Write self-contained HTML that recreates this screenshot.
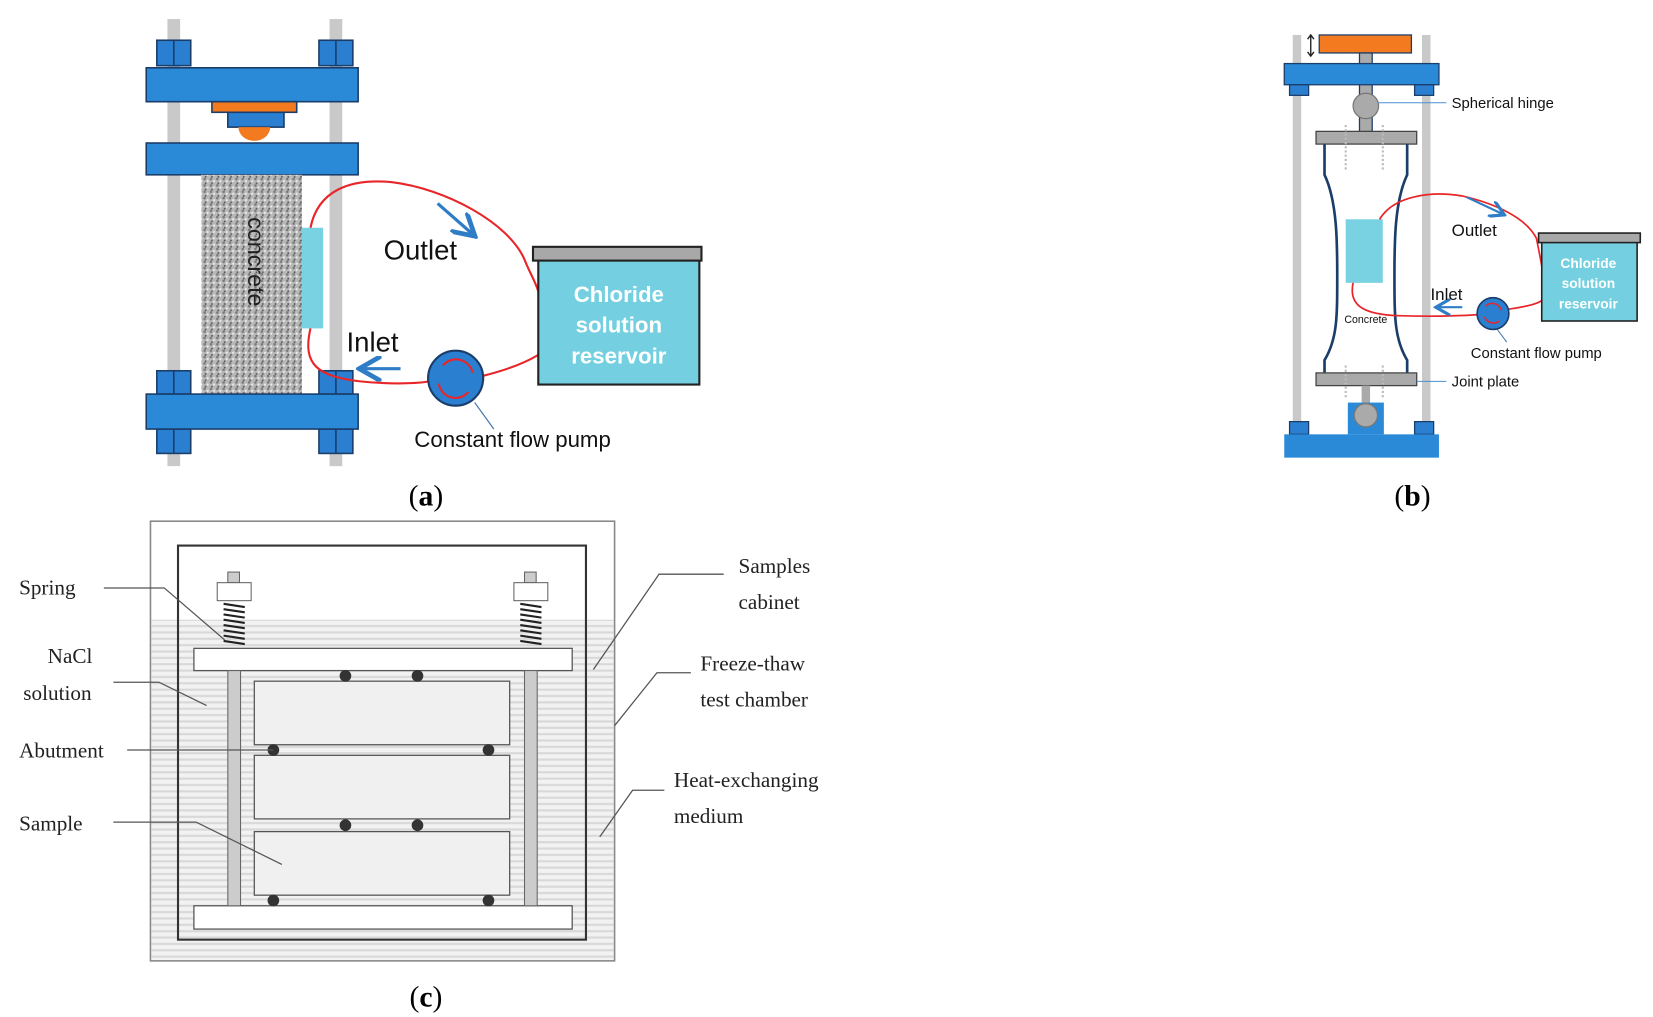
<!DOCTYPE html>
<html><head><meta charset="utf-8"><style>html,body{margin:0;padding:0;background:#fff;}svg{display:block}</style></head>
<body>
<svg width="1653" height="1017" viewBox="0 0 1560 960" preserveAspectRatio="none" xmlns="http://www.w3.org/2000/svg" font-family="Liberation Sans, sans-serif">
<defs>
<pattern id="spk" width="6" height="6" patternUnits="userSpaceOnUse"><rect width="6" height="6" fill="#b8b8b8"/><circle cx="1" cy="1" r="1.2" fill="#777"/><circle cx="4" cy="3" r="1" fill="#eee"/><circle cx="2" cy="5" r="0.9" fill="#555"/></pattern>
<pattern id="dot" width="4" height="6" patternUnits="userSpaceOnUse"><rect width="4" height="6" fill="#f2f2f2"/><rect x="0" y="2" width="4" height="2" fill="#d8d8d8"/></pattern>
<marker id="ah" markerWidth="8" markerHeight="8" refX="6" refY="4" orient="auto"><path d="M0,0 L7,4 L0,8" fill="none" stroke="#2e7dc6" stroke-width="1.5"/></marker>
</defs>
<!-- (a) -->
<g stroke="#1b3d6a" stroke-width="1.5">
<rect x="158" y="18" width="12" height="422" fill="#c9c9c9" stroke="none"/>
<rect x="311" y="18" width="12" height="422" fill="#c9c9c9" stroke="none"/>
<g fill="#2a7fd0">
<rect x="148" y="38" width="32" height="24"/><rect x="301" y="38" width="32" height="24"/>
<rect x="148" y="350" width="32" height="22"/><rect x="301" y="350" width="32" height="22"/>
<rect x="148" y="405" width="32" height="23"/><rect x="301" y="405" width="32" height="23"/>
</g>
<path d="M164 38V62M164 350V372M164 405V428M317 38V62M317 350V372M317 405V428" />
<rect x="138" y="64" width="200" height="32" fill="#2a8ad8"/>
<rect x="200" y="96" width="80" height="10" fill="#f47a1f"/>
<rect x="215" y="106" width="53" height="14" fill="#2a7fd0"/>
<path d="M225 120 A15 13 0 0 0 255 120Z" fill="#f47a1f" stroke="none"/>
<rect x="138" y="135" width="200" height="30" fill="#2a8ad8"/>
<rect x="190" y="165" width="95" height="207" fill="url(#spk)" stroke="none"/>
<rect x="285" y="215" width="20" height="95" fill="#78d2e2" stroke="none"/>
<rect x="138" y="372" width="200" height="33" fill="#2a8ad8"/>
</g>
<text x="0" y="0" transform="translate(234,205) rotate(90)" font-size="22" fill="#222">concrete</text>
<path d="M293 215 C300 180 330 168 370 172 C420 178 480 210 495 245 C500 258 505 265 508 275" fill="none" stroke="#e8262a" stroke-width="2"/>
<path d="M293 310 C285 345 300 355 340 360 C370 363 395 362 405 360" fill="none" stroke="#e8262a" stroke-width="2"/>
<path d="M455 355 C475 350 495 343 508 335" fill="none" stroke="#e8262a" stroke-width="2"/>
<path d="M413 192 L446 221" stroke="#2e7dc6" stroke-width="3" marker-end="url(#ah)"/>
<path d="M378 348 L342 348" stroke="#2e7dc6" stroke-width="3" marker-end="url(#ah)"/>
<text x="362" y="245" font-size="26" fill="#111">Outlet</text>
<text x="327" y="332" font-size="26" fill="#111">Inlet</text>
<circle cx="430" cy="357" r="26" fill="#2a7fd0" stroke="#1b3d6a" stroke-width="2"/>
<path d="M418 345 A16 16 0 0 1 446 352 M442 370 A16 16 0 0 1 414 362" fill="none" stroke="#e8262a" stroke-width="2"/>
<path d="M448 380 L466 405" stroke="#4a78b0" stroke-width="1.2"/>
<rect x="508" y="245" width="152" height="118" fill="#74d0e0" stroke="#222" stroke-width="2"/>
<rect x="503" y="233" width="159" height="13" fill="#a8a8a8" stroke="#222" stroke-width="2"/>
<g fill="#fff" font-weight="bold" font-size="21" text-anchor="middle">
<text x="584" y="285">Chloride</text><text x="584" y="314">solution</text><text x="584" y="343">reservoir</text></g>
<text x="391" y="422" font-size="21" fill="#111">Constant flow pump</text>
<text x="402" y="477" font-size="28" font-family="Liberation Serif, serif" text-anchor="middle">(<tspan font-weight="bold">a</tspan>)</text>
<!-- (b) -->
<g stroke="#1b3d6a" stroke-width="1.2">
<rect x="1220" y="33" width="8" height="377" fill="#c9c9c9" stroke="none"/>
<rect x="1342" y="33" width="8" height="377" fill="#c9c9c9" stroke="none"/>
<rect x="1245" y="33" width="87" height="17" fill="#f47a1f"/>
<rect x="1283" y="50" width="12" height="75" fill="#aaa"/>
<rect x="1212" y="60" width="146" height="20" fill="#2a8ad8"/>
<rect x="1217" y="80" width="18" height="10" fill="#2a7fd0"/><rect x="1335" y="80" width="18" height="10" fill="#2a7fd0"/>
<rect x="1217" y="398" width="18" height="12" fill="#2a7fd0"/><rect x="1335" y="398" width="18" height="12" fill="#2a7fd0"/>
<circle cx="1289" cy="100" r="12" fill="#aaa" stroke="#777"/>
<rect x="1242" y="124" width="95" height="12" fill="#aaa" stroke="#444"/>
<path d="M1250 136 V165 C1262 190 1262 230 1262 260 C1262 300 1262 320 1250 340 V352 M1328 136 V165 C1316 190 1316 230 1316 260 C1316 300 1316 320 1328 340 V352" fill="none" stroke="#1b3d6a" stroke-width="2.5"/>
<rect x="1270" y="207" width="35" height="60" fill="#78d2e2" stroke="none"/>
<rect x="1242" y="352" width="95" height="12" fill="#aaa" stroke="#444"/>
<rect x="1285" y="364" width="8" height="20" fill="#aaa" stroke="none"/>
<rect x="1272" y="380" width="34" height="30" fill="#2a8ad8" stroke="none"/>
<circle cx="1289" cy="392" r="11" fill="#aaa" stroke="#777"/>
<rect x="1212" y="410" width="146" height="22" fill="#2a8ad8" stroke="none"/>
</g>
<g stroke="#bbb" stroke-width="2" stroke-dasharray="2 2"><path d="M1270 118V160M1305 118V160M1270 345V375M1305 345V375"/></g>
<path d="M1237 33 V53 M1234 37 L1237 33 L1240 37 M1234 49 L1237 53 L1240 49" stroke="#222" stroke-width="1.3" fill="none"/>
<text x="1289" y="305" font-size="10" fill="#111" text-anchor="middle">Concrete</text>
<path d="M1300 97 H1365 M1337 360 H1365" stroke="#4a90d0" stroke-width="1"/>
<text x="1370" y="102" font-size="14" fill="#111">Spherical hinge</text>
<text x="1370" y="365" font-size="14" fill="#111">Joint plate</text>
<path d="M1302 207 C1315 185 1350 180 1380 185 C1410 192 1440 205 1450 225 C1453 240 1455 250 1456 257" fill="none" stroke="#e8262a" stroke-width="1.6"/>
<path d="M1277 267 C1272 290 1290 297 1320 298 C1350 299 1380 298 1395 297" fill="none" stroke="#e8262a" stroke-width="1.6"/>
<path d="M1423 292 C1435 290 1450 288 1456 283" fill="none" stroke="#e8262a" stroke-width="1.6"/>
<path d="M1384 186 L1418 202" stroke="#2e7dc6" stroke-width="2" marker-end="url(#ah)"/>
<path d="M1380 290 L1357 290" stroke="#2e7dc6" stroke-width="2" marker-end="url(#ah)"/>
<text x="1370" y="223" font-size="16" fill="#111">Outlet</text>
<text x="1350" y="283" font-size="16" fill="#111">Inlet</text>
<circle cx="1409" cy="296" r="15" fill="#2a7fd0" stroke="#1b3d6a" stroke-width="1.5"/>
<path d="M1402 289 A9 9 0 0 1 1417 293 M1415 303 A9 9 0 0 1 1401 299" fill="none" stroke="#e8262a" stroke-width="1.4"/>
<path d="M1413 311 L1422 323" stroke="#4a78b0" stroke-width="1"/>
<rect x="1455" y="228" width="90" height="75" fill="#74d0e0" stroke="#222" stroke-width="1.5"/>
<rect x="1452" y="220" width="96" height="9" fill="#a8a8a8" stroke="#222" stroke-width="1.5"/>
<g fill="#fff" font-weight="bold" font-size="13" text-anchor="middle">
<text x="1499" y="253">Chloride</text><text x="1499" y="272">solution</text><text x="1499" y="291">reservoir</text></g>
<text x="1388" y="338" font-size="14" fill="#111">Constant flow pump</text>
<text x="1333" y="477" font-size="28" font-family="Liberation Serif, serif" text-anchor="middle">(<tspan font-weight="bold">b</tspan>)</text>
<!-- (c) -->
<rect x="142" y="492" width="438" height="415" fill="#fff" stroke="#888" stroke-width="1.5"/>
<rect x="143" y="585" width="436" height="321" fill="url(#dot)"/>
<rect x="168" y="515" width="385" height="372" fill="none" stroke="#333" stroke-width="2"/>
<rect x="183" y="612" width="357" height="21" fill="#fff" stroke="#555" stroke-width="1.2"/>
<rect x="183" y="855" width="357" height="22" fill="#fff" stroke="#555" stroke-width="1.2"/>
<rect x="215" y="633" width="12" height="222" fill="#ccc" stroke="#666"/>
<rect x="495" y="633" width="12" height="222" fill="#ccc" stroke="#666"/>
<g fill="#f0f0f0" stroke="#555" stroke-width="1.2">
<rect x="240" y="643" width="241" height="60"/><rect x="240" y="713" width="241" height="60"/><rect x="240" y="785" width="241" height="60"/></g>
<g fill="#333"><circle cx="326" cy="638" r="5.5"/><circle cx="394" cy="638" r="5.5"/><circle cx="258" cy="708" r="5.5"/><circle cx="461" cy="708" r="5.5"/><circle cx="326" cy="779" r="5.5"/><circle cx="394" cy="779" r="5.5"/><circle cx="258" cy="850" r="5.5"/><circle cx="461" cy="850" r="5.5"/></g>
<g stroke="#666"><rect x="215" y="540" width="11" height="10" fill="#ccc"/><rect x="205" y="550" width="32" height="17" fill="#fff"/>
<rect x="495" y="540" width="11" height="10" fill="#ccc"/><rect x="485" y="550" width="32" height="17" fill="#fff"/></g>
<g stroke="#222" stroke-width="2"><path d="M211 570l20 3M211 575l20 3M211 580l20 3M211 585l20 3M211 590l20 3M211 595l20 3M211 600l20 3M211 605l20 3M491 570l20 3M491 575l20 3M491 580l20 3M491 585l20 3M491 590l20 3M491 595l20 3M491 600l20 3M491 605l20 3"/></g>
<g fill="none" stroke="#555" stroke-width="1.2">
<path d="M98 555H155L212 604"/><path d="M107 644H150L195 666"/><path d="M120 708H258"/><path d="M107 776H185L266 816"/>
<path d="M683 542H622L560 632"/><path d="M652 635H620L580 685"/><path d="M627 746H597L566 790"/></g>
<g font-family="Liberation Serif, serif" font-size="20" fill="#222">
<text x="18" y="561">Spring</text><text x="45" y="626">NaCl</text><text x="22" y="661">solution</text><text x="18" y="715">Abutment</text><text x="18" y="784">Sample</text>
<text x="697" y="541">Samples</text><text x="697" y="575">cabinet</text><text x="661" y="633">Freeze-thaw</text><text x="661" y="667">test chamber</text><text x="636" y="743">Heat-exchanging</text><text x="636" y="777">medium</text></g>
<text x="402" y="950" font-size="28" font-family="Liberation Serif, serif" text-anchor="middle">(<tspan font-weight="bold">c</tspan>)</text>
</svg>
</body></html>
